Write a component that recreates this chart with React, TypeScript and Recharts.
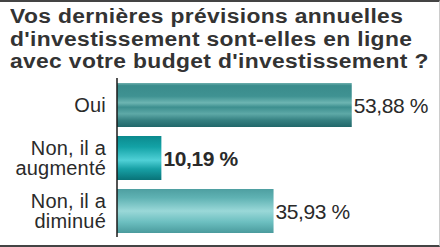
import { BarChart, Bar, XAxis, YAxis, Cell, LabelList } from "recharts";

const categories = ["Oui", "Non, il a augmenté", "Non, il a diminué"];
const categoryLines = [["Oui"], ["Non, il a", "augmenté"], ["Non, il a", "diminué"]];
const values = [53.88, 10.19, 35.93];
const valueLabels = ["53,88 %", "10,19 %", "35,93 %"];
const titleLines = [
    "Vos dernières prévisions annuelles",
    "d'investissement sont-elles en ligne",
    "avec votre budget d'investissement ?",
];

const data = categories.map((c, i) => ({ name: c, value: values[i], label: valueLabels[i] }));

// gradient stops per bar (offset, color)
const gradients = [
    [["0%", "#6fb0ae"], ["6%", "#3a8c8c"], ["30%", "#3f9292"], ["45%", "#6db5b2"], ["55%", "#3d8f8f"], ["70%", "#5ea9a7"], ["85%", "#347f80"], ["100%", "#21686a"]],
    [["0%", "#0b8a8e"], ["25%", "#13a2a6"], ["55%", "#4fd0d6"], ["75%", "#17a0a5"], ["100%", "#087378"]],
    [["0%", "#4e9fa1"], ["20%", "#5fb2b3"], ["50%", "#9ad8d8"], ["75%", "#6cbfc0"], ["100%", "#4a9b9d"]],
];

const FONT = "'Liberation Sans', Arial, sans-serif";

const CategoryTick = ({ x, y, index }: any) => {
    const lines = categoryLines[index] || [];
    const lh = 20;
    const start = -((lines.length - 1) * lh) / 2;
    return (
        <text x={x - 3} y={y} textAnchor="end" fill="#2a2a2a" fontFamily={FONT} fontSize={20} letterSpacing={0.2}>
            {lines.map((l, i) => (
                <tspan key={i} x={x - 3} y={y + start + i * lh} dy="0.36em">
                    {l}
                </tspan>
            ))}
        </text>
    );
};

const ValueLabel = ({ x, y, width, height, index }: any) => (
    <text
        x={x + width + 2}
        y={y + height / 2}
        dy="0.36em"
        fill="#2a2a2a"
        fontFamily={FONT}
        fontSize={21}
        letterSpacing={-0.4}
        fontWeight={index === 1 ? "bold" : "normal"}
    >
        {valueLabels[index]}
    </text>
);

export default function App() {
    return (
        <div
            style={{
                position: "fixed",
                left: 0,
                top: 0,
                width: 440,
                height: 247,
                background: "#fff",
                boxSizing: "border-box",
                borderTop: "2px solid #444",
                borderBottom: "2px solid #444",
                borderRight: "1px solid #ccc",
                overflow: "hidden",
            }}
        >
            <div
                style={{
                    position: "absolute",
                    left: 10,
                    top: 3,
                    fontFamily: FONT,
                    fontWeight: "bold",
                    fontSize: 19.5,
                    lineHeight: "22.5px",
                    color: "#333",
                    letterSpacing: 0.3,
                    whiteSpace: "nowrap",
                    transform: "scaleX(1.17)",
                    transformOrigin: "0 0",
                }}
            >
                {titleLines.map((t) => (
                    <div key={t}>{t}</div>
                ))}
            </div>
            <div style={{ position: "absolute", left: 0, top: -2 }}>
                <BarChart
                    width={440}
                    height={247}
                    data={data}
                    layout="vertical"
                    margin={{ top: 78, right: 18, bottom: 10, left: 0 }}
                    barSize={44}
                >
                    <defs>
                        {gradients.map((g, i) => (
                            <linearGradient key={i} id={`bg${i}`} x1="0" y1="0" x2="0" y2="1">
                                {g.map(([o, c], j) => (
                                    <stop key={j} offset={o} stopColor={c} />
                                ))}
                            </linearGradient>
                        ))}
                    </defs>
                    <XAxis type="number" domain={[0, 70]} hide />
                    <YAxis
                        type="category"
                        dataKey="name"
                        width={117}
                        axisLine={{ stroke: "#1a1a1a", strokeWidth: 1.5 }}
                        tickLine={false}
                        tick={<CategoryTick />}
                        interval={0}
                    />
                    <Bar dataKey="value" isAnimationActive={false}>
                        {data.map((d, i) => (
                            <Cell key={d.name} fill={`url(#bg${i})`} />
                        ))}
                        <LabelList dataKey="label" content={<ValueLabel />} />
                    </Bar>
                </BarChart>
            </div>
        </div>
    );
}
